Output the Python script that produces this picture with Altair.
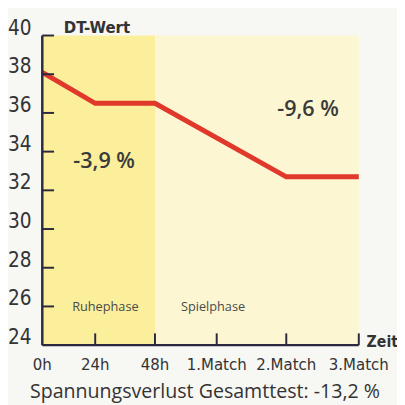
import altair as alt
import pandas as pd

# ---- data ----
x_labels = ["0h", "24h", "48h", "1.Match", "2.Match", "3.Match"]
y_ticks = [24, 26, 28, 30, 32, 34, 36, 38, 40]
line_x = ["0h", "24h", "48h", "2.Match", "3.Match"]
line_y = [38.1, 36.5, 36.5, 32.7, 32.7]
phase_names = ["Ruhephase", "Spielphase"]
phase_start = ["0h", "48h"]
phase_end = ["48h", "3.Match"]
pct_labels = ["-3,9 %", "-9,6 %"]
y_title = "DT-Wert"
x_title = "Zeit"
total_label = "Spannungsverlust Gesamttest: -13,2 %"

# ---- styling ----
W, H = 323, 316
x_range = [0, 54, 115, 178, 249, 323]
phase_colors = ["#fbef9c", "#fcf6d2"]
axis_col = "#2b2940"
txt_col = "#333333"
narrow = "DejaVu Sans Condensed, Roboto Condensed, Roboto, sans-serif"
sans = "Open Sans"

idx = {c: i for i, c in enumerate(x_labels)}

def xscale():
    return alt.Scale(domain=list(range(len(x_labels))), range=x_range, zero=False, nice=False)

def yscale():
    return alt.Scale(domain=[y_ticks[0], y_ticks[-1]], zero=False, nice=False)

rect_df = pd.DataFrame({
    "name": phase_names,
    "s": [idx[c] for c in phase_start],
    "e": [idx[c] for c in phase_end],
    "y0": [y_ticks[0]] * 2,
    "y1": [y_ticks[-1]] * 2,
})
line_df = pd.DataFrame({"x": [idx[c] for c in line_x], "v": line_y})
ylab_df = pd.DataFrame({"v": y_ticks, "t": [str(v) for v in y_ticks]})
ytick_df = pd.DataFrame({"v": y_ticks[1:]})
xlab_df = pd.DataFrame({"x": list(range(len(x_labels))), "t": x_labels})
xtick_df = pd.DataFrame({"x": list(range(1, len(x_labels)))})

rects = alt.Chart(rect_df).mark_rect().encode(
    x=alt.X("s:Q", scale=xscale(), axis=None),
    x2="e:Q",
    y=alt.Y("y0:Q", scale=yscale(), axis=None),
    y2="y1:Q",
    color=alt.Color("name:N", scale=alt.Scale(domain=phase_names, range=phase_colors), legend=None),
)

line = alt.Chart(line_df).mark_line(color="#e0382b", strokeWidth=5, strokeJoin="miter").encode(
    x=alt.X("x:Q", scale=xscale(), axis=None),
    y=alt.Y("v:Q", scale=yscale(), axis=None),
)

# axis lines
yaxis = alt.Chart(pd.DataFrame({"v": [y_ticks[0]], "v2": [y_ticks[-1]]})).mark_rule(
    color=axis_col, strokeWidth=2.5).encode(
    x=alt.value(0), y=alt.Y("v:Q", scale=yscale(), axis=None), y2="v2:Q")
xaxis = alt.Chart(pd.DataFrame({"x": [0], "x2": [len(x_labels) - 1]})).mark_rule(
    color=axis_col, strokeWidth=2.5).encode(
    y=alt.value(H), x=alt.X("x:Q", scale=xscale(), axis=None), x2="x2:Q")

yticks = alt.Chart(ytick_df).mark_rule(color=axis_col, strokeWidth=2).encode(
    y=alt.Y("v:Q", scale=yscale(), axis=None),
    x=alt.value(0), x2=alt.value(12),
)
xticks = alt.Chart(xtick_df).mark_rule(color=axis_col, strokeWidth=2).encode(
    x=alt.X("x:Q", scale=xscale(), axis=None),
    y=alt.value(H - 12), y2=alt.value(H),
)

ylabels = alt.Chart(ylab_df).mark_text(
    font=narrow, fontSize=21, color=txt_col, align="right", baseline="middle", dy=-7).encode(
    y=alt.Y("v:Q", scale=yscale(), axis=None), x=alt.value(-11), text="t:N")
xlabels = alt.Chart(xlab_df).mark_text(
    font=narrow, fontSize=17, color=txt_col, align="center", baseline="top").encode(
    x=alt.X("x:Q", scale=xscale(), axis=None), y=alt.value(H + 12), text="t:N")

one = pd.DataFrame({"a": [0]})

def label(text, x, y, **kw):
    return alt.Chart(one).mark_text(text=text, **kw).encode(x=x, y=y)

pct1 = label(pct_labels[0], alt.datum(1.15, scale=xscale()), alt.datum(33.5, scale=yscale()),
             font=sans, fontSize=22, fontWeight=600, color="#3a3a3a")
pct2 = label(pct_labels[1], alt.datum(4.3, scale=xscale()), alt.datum(36.2, scale=yscale()),
             font=sans, fontSize=22, fontWeight=600, color="#3a3a3a")
ph1 = label(phase_names[0], alt.datum(1.17, scale=xscale()), alt.datum(25.95, scale=yscale()),
            font=sans, fontSize=13, color="#4a4a4a")
ph2 = label(phase_names[1], alt.datum(2.94, scale=xscale()), alt.datum(25.95, scale=yscale()),
            font=sans, fontSize=13, color="#4a4a4a")
ytitle = label(y_title, alt.value(22), alt.value(-3), font=narrow, fontSize=17,
               fontWeight="bold", color=txt_col, align="left", baseline="alphabetic")
xtitle = label(x_title, alt.value(W + 8), alt.value(H - 3), font=narrow, fontSize=16,
               fontWeight="bold", color=txt_col, align="left", baseline="middle")
bottom = label(total_label, alt.value(166), alt.value(364), font=sans, fontSize=20,
               color=txt_col, align="center", baseline="middle")

chart = alt.layer(rects, line, yaxis, xaxis, yticks, xticks, ylabels, xlabels,
                  pct1, pct2, ph1, ph2, ytitle, xtitle, bottom).properties(
    width=W, height=H,
    autosize=alt.AutoSizeParams(type="none"),
    padding={"left": 35, "top": 24, "right": 39, "bottom": 57},
    background="#f7f7f4",
).configure_view(stroke=None)

chart.save("out.html", embed_options={"renderer": "svg", "actions": False})
